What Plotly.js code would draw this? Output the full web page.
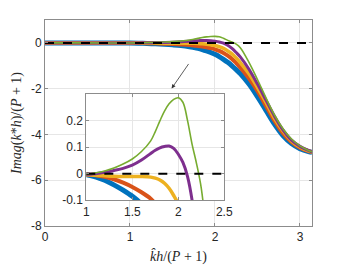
<!DOCTYPE html>
<html>
<head>
<meta charset="utf-8">
<script src="https://cdn.plot.ly/plotly-3.0.1.min.js"></script>
<style>html,body{margin:0;padding:0;background:#fff;}#chart{width:345px;height:267px;}</style>
</head>
<body>
<div id="chart"></div>
<script>
// Shared abscissa (k h / (P+1))
const xVals = [0, 0.5, 1.0, 1.1, 1.2, 1.3, 1.4, 1.5, 1.6, 1.7, 1.75, 1.8, 1.85, 1.9, 1.95, 2.0, 2.05, 2.1, 2.15, 2.2, 2.25, 2.3, 2.4, 2.5, 2.6, 2.7, 2.8, 2.9, 3.0, 3.1, Math.PI];

// Series values (Imag(k* h)/(P+1))
const blueVals   = [0, 0, -0.004, -0.012, -0.025, -0.042, -0.062, -0.085, -0.115, -0.165, -0.2, -0.24, -0.29, -0.35, -0.42, -0.5, -0.6, -0.72, -0.85, -1.0, -1.17, -1.35, -1.8, -2.35, -2.95, -3.55, -4.05, -4.4, -4.62, -4.75, -4.78];
const orangeVals = [0, 0, -0.003, -0.006, -0.012, -0.021, -0.034, -0.05, -0.07, -0.094, -0.112, -0.135, -0.16, -0.19, -0.23, -0.28, -0.35, -0.44, -0.56, -0.7, -0.88, -1.08, -1.55, -2.1, -2.75, -3.4, -3.95, -4.33, -4.58, -4.73, -4.77];
const yellowVals = [0, 0, -0.003, -0.006, -0.008, -0.01, -0.011, -0.011, -0.011, -0.013, -0.017, -0.024, -0.036, -0.055, -0.082, -0.115, -0.17, -0.24, -0.35, -0.48, -0.66, -0.87, -1.35, -1.95, -2.6, -3.3, -3.85, -4.28, -4.55, -4.72, -4.77];
const purpleVals = [0, 0, -0.003, 0.0, 0.005, 0.012, 0.02, 0.032, 0.051, 0.076, 0.088, 0.097, 0.102, 0.104, 0.095, 0.073, 0.042, -0.01, -0.1, -0.24, -0.42, -0.62, -1.15, -1.8, -2.5, -3.2, -3.8, -4.25, -4.52, -4.7, -4.77];
const greenVals  = [0, 0, -0.003, 0.003, 0.01, 0.021, 0.036, 0.055, 0.083, 0.123, 0.158, 0.198, 0.235, 0.262, 0.279, 0.285, 0.268, 0.2, 0.11, 0.035, -0.055, -0.22, -0.85, -1.6, -2.4, -3.15, -3.75, -4.2, -4.5, -4.7, -4.76];

// Reference (zero) line
const zeroMainX = [0, Math.PI];
const zeroInsetX = [1, 2.5];
const zeroY = [0, 0];

// Tick labels
const mainXTicks = [0, 1, 2, 3];
const mainXTickText = ['0', '1', '2', '3'];
const mainYTicks = [-8, -6, -4, -2, 0];
const mainYTickText = ['-8', '-6', '-4', '-2', '0'];
const insetXTicks = [1, 1.5, 2, 2.5];
const insetXTickText = ['1', '1.5', '2', '2.5'];
const insetYTicks = [-0.1, 0, 0.1, 0.2];
const insetYTickText = ['-0.1', '0', '0.1', '0.2'];

const series = [
  {y: blueVals,   color: '#0072BD', w: 5},
  {y: orangeVals, color: '#D95319', w: 4},
  {y: yellowVals, color: '#EDB120', w: 3.5},
  {y: purpleVals, color: '#7E2F8E', w: 3},
  {y: greenVals,  color: '#77AC30', w: 1.6}
];

const traces = [];
series.forEach(s => {
  traces.push({x: xVals, y: s.y, xaxis: 'x', yaxis: 'y', mode: 'lines',
    line: {color: s.color, width: s.w, shape: 'spline', smoothing: 1}, hoverinfo: 'skip'});
});
traces.push({x: zeroMainX, y: zeroY, xaxis: 'x', yaxis: 'y', mode: 'lines',
  line: {color: '#000', width: 2, dash: 'dash'}, hoverinfo: 'skip'});
series.forEach(s => {
  traces.push({x: xVals, y: s.y, xaxis: 'x2', yaxis: 'y2', mode: 'lines',
    line: {color: s.color, width: s.w, shape: 'spline', smoothing: 1}, hoverinfo: 'skip'});
});
traces.push({x: zeroInsetX, y: zeroY, xaxis: 'x2', yaxis: 'y2', mode: 'lines',
  line: {color: '#000', width: 2, dash: 'dash'}, hoverinfo: 'skip'});

const tickFont = {family: 'Liberation Sans, Arial, sans-serif', size: 12, color: '#262626'};
const titleFont = {family: 'Liberation Serif, Times New Roman, serif', size: 14, color: '#262626'};
const axCommon = {
  showgrid: true, gridcolor: '#e6e6e6', gridwidth: 1,
  showline: true, linecolor: '#8c8c8c', linewidth: 1, mirror: 'ticks',
  ticks: 'inside', ticklen: 3, tickcolor: '#8c8c8c',
  zeroline: false, tickfont: tickFont, fixedrange: true
};

const layout = {
  width: 345, height: 267,
  margin: {l: 45, r: 33, t: 20, b: 41},
  paper_bgcolor: '#fff', plot_bgcolor: '#fff',
  showlegend: false,
  xaxis: Object.assign({}, axCommon, {
    domain: [0, 1], anchor: 'y', range: [0, Math.PI],
    tickmode: 'array', tickvals: mainXTicks, ticktext: mainXTickText,
    title: {text: '<i>k̂h</i>/(<i>P</i> + 1)', font: titleFont, standoff: 7}
  }),
  yaxis: Object.assign({}, axCommon, {
    domain: [0, 1], anchor: 'x', range: [-8, 1],
    tickmode: 'array', tickvals: mainYTicks, ticktext: mainYTickText,
    title: {text: '<i>Imag</i>(<i>k</i>*<i>h</i>)/(<i>P</i> + 1)', font: titleFont, standoff: 6}
  }),
  xaxis2: Object.assign({}, axCommon, {
    domain: [0.1547, 0.6715], anchor: 'y2', range: [1, 2.5],
    tickmode: 'array', tickvals: insetXTicks, ticktext: insetXTickText
  }),
  yaxis2: Object.assign({}, axCommon, {
    domain: [0.1248, 0.642], anchor: 'x2', range: [-0.1, 0.3],
    tickmode: 'array', tickvals: insetYTicks, ticktext: insetYTickText
  }),
  annotations: [{
    x: 1.49, y: -1.99, xref: 'x', yref: 'y',
    ax: 18, ay: -26, axref: 'pixel', ayref: 'pixel',
    showarrow: true, arrowhead: 2, arrowsize: 1, arrowwidth: 0.8, arrowcolor: '#333', text: ''
  }]
};

Plotly.newPlot('chart', traces, layout, {displayModeBar: false, staticPlot: true});
</script>
</body>
</html>
